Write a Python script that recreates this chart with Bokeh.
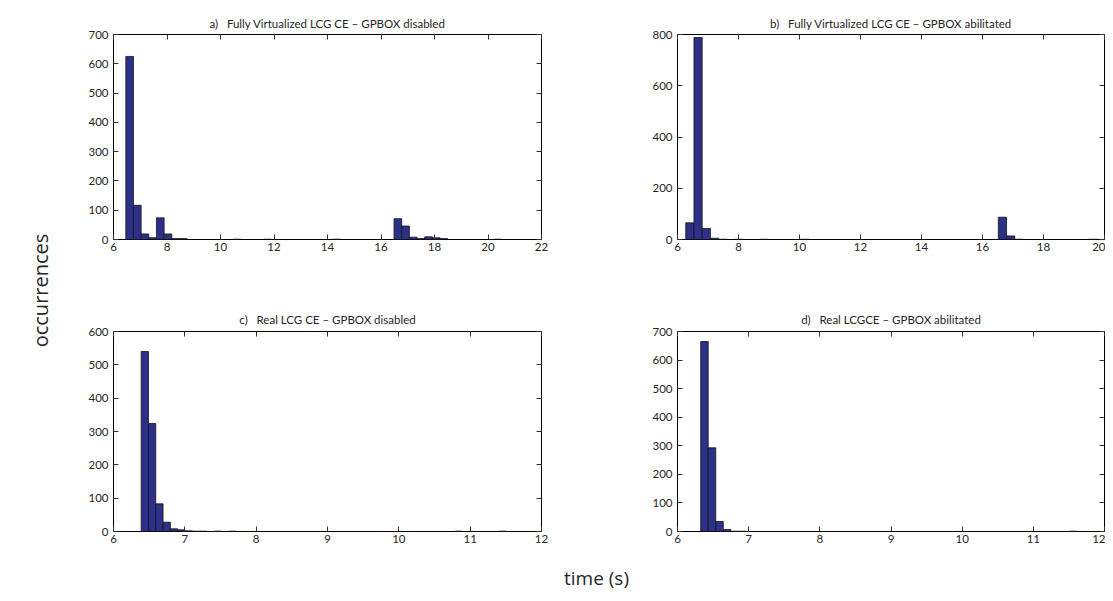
import math
from bokeh.plotting import figure
from bokeh.layouts import row, column
from bokeh.models import LinearAxis, FixedTicker, Range1d, ColumnDataSource
from bokeh.embed import file_html
from bokeh.resources import INLINE
from bokeh.core.properties import value

# ---------------- data (histograms, 50 bins each) ----------------
NB = "\u00a0"
# panel a) Fully Virtualized LCG CE - GPBOX disabled
a_title = "a)" + NB * 3 + "Fully Virtualized LCG CE \u2013 GPBOX disabled"
a_start, a_binw = 6.46, 0.2865
a_bins = [0, 1, 2, 3, 4, 5, 6, 7, 14, 18, 27, 35, 36, 37, 38, 39, 40, 41, 48]
a_counts = [625, 117, 19, 6, 74, 19, 3, 3, 1, 1, 1, 71, 46, 8, 3, 9, 6, 3, 1]
a_xticks = [6, 8, 10, 12, 14, 16, 18, 20, 22]
a_yticks = [0, 100, 200, 300, 400, 500, 600, 700]

# panel b) Fully Virtualized LCG CE - GPBOX abilitated
b_title = "b)" + NB * 3 + "Fully Virtualized LCG CE \u2013 GPBOX abilitated"
b_start, b_binw = 6.27, 0.2697
b_bins = [0, 1, 2, 3, 4, 6, 9, 14, 38, 39, 40, 49]
b_counts = [65, 788, 43, 5, 1, 1, 1, 1, 87, 14, 1, 1]
b_xticks = [6, 8, 10, 12, 14, 16, 18, 20]
b_yticks = [0, 200, 400, 600, 800]

# panel c) Real LCG CE - GPBOX disabled
c_title = "c)" + NB * 3 + "Real LCG CE \u2013 GPBOX disabled"
c_start, c_binw = 6.388, 0.1023
c_bins = [0, 1, 2, 3, 4, 5, 6, 7, 8, 10, 12, 43, 49]
c_counts = [540, 324, 83, 28, 8, 5, 2, 1, 1, 1, 1, 1, 1]
c_xticks = [6, 7, 8, 9, 10, 11, 12]
c_yticks = [0, 100, 200, 300, 400, 500, 600]

# panel d) Real LCGCE - GPBOX abilitated
d_title = "d)" + NB * 3 + "Real LCGCE \u2013 GPBOX abilitated"
d_start, d_binw = 6.326, 0.1058
d_bins = [0, 1, 2, 3, 4, 5, 49]
d_counts = [665, 293, 35, 7, 1, 1, 1]
d_xticks = [6, 7, 8, 9, 10, 11, 12]
d_yticks = [0, 100, 200, 300, 400, 500, 600, 700]

y_label = "occurrences"
x_label = "time (s)"

# ---------------- styling ----------------
FONT = "Lato"
LABEL_FONT = "Open Sans"
BAR_FILL = "#2d3088"
BAR_LINE = "#151515"
TXT = "#262626"


def panel(title, start, binw, bins, counts, xticks, yticks,
          fw, fh, mbl, mbr, mbt, mbb, toff, tstand):
    lefts = [start + k * binw for k in bins]
    rights = [start + (k + 1) * binw for k in bins]
    src = ColumnDataSource(dict(left=lefts, right=rights, top=counts,
                                bottom=[0] * len(counts)))
    p = figure(frame_width=fw, frame_height=fh,
               x_range=Range1d(xticks[0], xticks[-1]),
               y_range=Range1d(yticks[0], yticks[-1]),
               output_backend="svg", toolbar_location=None,
               min_border_left=mbl, min_border_right=mbr,
               min_border_top=mbt, min_border_bottom=mbb,
               background_fill_color="white", border_fill_color="white")
    p.quad(left="left", right="right", top="top", bottom="bottom", source=src,
           fill_color=BAR_FILL, line_color=BAR_LINE, line_width=0.8)
    p.grid.visible = False
    p.outline_line_color = "black"
    p.outline_line_width = 1
    p.outline_line_alpha = 1

    p.title.text = title
    p.title.align = "center"
    p.title.offset = toff
    p.title.text_font = FONT
    p.title.text_font_size = "11.5px"
    p.title.text_font_style = "normal"
    p.title.text_color = TXT
    p.title.standoff = tstand

    # bottom / left labelled axes
    for ax, ticks in ((p.xaxis[0], xticks), (p.yaxis[0], yticks)):
        ax.ticker = FixedTicker(ticks=ticks)
        ax.major_tick_in = 5
        ax.major_tick_out = 0
        ax.minor_tick_line_color = None
        ax.axis_line_color = None
        ax.major_tick_line_color = "#333333"
        ax.major_label_text_font = FONT
        ax.major_label_text_font_size = "11.5px"
        ax.major_label_text_color = TXT
    p.xaxis[0].major_label_standoff = 3
    p.yaxis[0].major_label_standoff = 5

    # mirrored ticks on top / right (no labels)
    for side, ticks in (("above", xticks), ("right", yticks)):
        ax = LinearAxis(ticker=FixedTicker(ticks=ticks))
        ax.major_tick_in = 5
        ax.major_tick_out = 0
        ax.minor_tick_line_color = None
        ax.axis_line_color = None
        ax.major_tick_line_color = "#333333"
        ax.major_label_text_font_size = "0px"
        ax.major_label_standoff = 0
        ax.major_label_text_alpha = 0
        p.add_layout(ax, side)
    return p


pa = panel(a_title, a_start, a_binw, a_bins, a_counts, a_xticks, a_yticks,
           428, 205, 45, 10, 34, 40, -10, 10)
pb = panel(b_title, b_start, b_binw, b_bins, b_counts, b_xticks, b_yticks,
           427, 205, 126, 1, 34, 40, -11, 10)
pc = panel(c_title, c_start, c_binw, c_bins, c_counts, c_xticks, c_yticks,
           428, 200, 45, 10, 52, 30, -5, 11)
pd = panel(d_title, d_start, d_binw, d_bins, d_counts, d_xticks, d_yticks,
           427, 200, 126, 1, 52, 30, -9, 11)


def label_fig(w, h, txt, x, y, angle, size):
    f = figure(width=w, height=h, x_range=Range1d(0, w), y_range=Range1d(0, h),
               output_backend="svg", toolbar_location=None,
               x_axis_type=None, y_axis_type=None,
               min_border=0, min_border_left=0, min_border_right=0,
               min_border_top=0, min_border_bottom=0)
    f.outline_line_color = None
    f.grid.visible = False
    f.text(x=[x], y=[y], text=[txt], angle=angle,
           text_font=value(LABEL_FONT), text_font_size=size, text_color=TXT,
           text_align="center", text_baseline="middle")
    return f


grid_h = (34 + 205 + 40) + (52 + 200 + 30)
ylab = label_fig(68, grid_h, y_label, 40, grid_h - 290, math.pi / 2, "20px")
xlab = label_fig(1105, 30, x_label, 596, 14, 0, "19px")

layout = column(row(ylab, column(row(pa, pb), row(pc, pd))), xlab)

open("out.html", "w").write(file_html(layout, INLINE))
